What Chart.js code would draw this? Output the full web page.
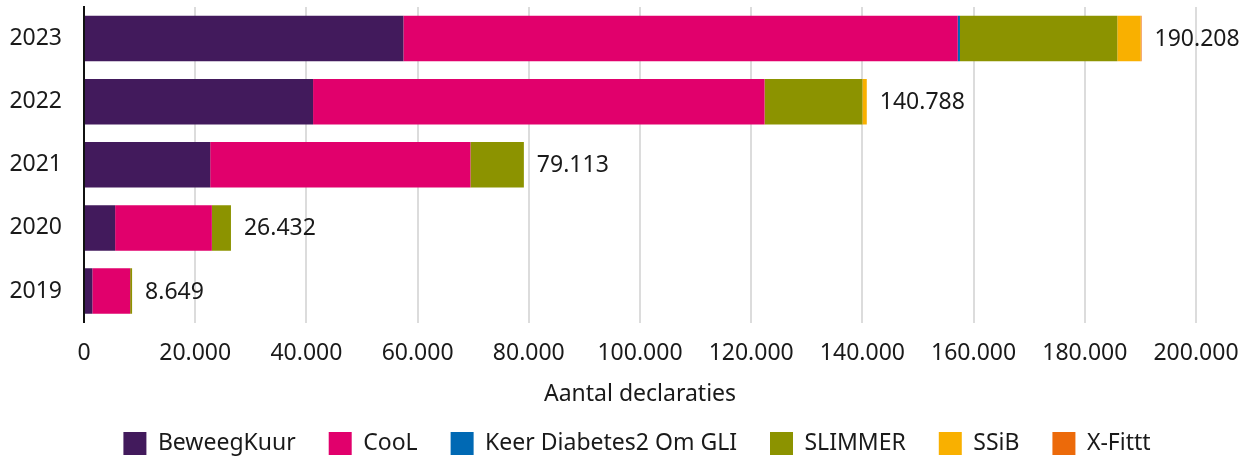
<!DOCTYPE html>
<html>
<head>
<meta charset="utf-8">
<script src="https://cdn.jsdelivr.net/npm/chart.js@4"></script>
<style>
  html, body { margin: 0; padding: 0; background: #fff; }
  #wrap { width: 1248px; height: 456px; }
</style>
</head>
<body>
<div id="wrap"><canvas id="myChart" width="1248" height="456"></canvas></div>
<script>
// jaren + waarden per programma
const years = ['2023', '2022', '2021', '2020', '2019'];
const beweegKuur = [57450, 41200, 22700, 5600, 1500];
const cool = [99700, 81200, 46800, 17400, 6800];
const keerDiabetes = [400, 0, 0, 0, 0];
const slimmer = [28300, 17600, 9613, 3432, 349];
const ssib = [4208, 788, 0, 0, 0];
const xFittt = [150, 0, 0, 0, 0];
const xTicks = [0, 20000, 40000, 60000, 80000, 100000, 120000, 140000, 160000, 180000, 200000];

const FONT = '"Noto Sans", sans-serif';

function fmt(n) {
    return String(Math.round(n)).replace(/\B(?=(\d{3})+(?!\d))/g, '.');
}

const series = [
    { label: 'BeweegKuur', data: beweegKuur, color: '#421a5c' },
    { label: 'CooL', data: cool, color: '#e1006c' },
    { label: 'Keer Diabetes2 Om GLI', data: keerDiabetes, color: '#0069b4' },
    { label: 'SLIMMER', data: slimmer, color: '#8c9300' },
    { label: 'SSiB', data: ssib, color: '#f9b000' },
    { label: 'X-Fittt', data: xFittt, color: '#ec6a0a' }
];

/* totaal achter elke balk */
const totalsPlugin = {
    id: 'totals',
    afterLayout(chart) {
        // legenda iets naar rechts, zoals in het origineel
        if (chart.legend) {
            chart.legend.left += 13;
            chart.legend.right += 13;
        }
    },
    afterDatasetsDraw(chart) {
        const ctx = chart.ctx;
        const xScale = chart.scales.x;
        const yScale = chart.scales.y;
        ctx.save();
        ctx.font = '23px ' + FONT;
        ctx.fillStyle = '#1a1a1a';
        ctx.textBaseline = 'middle';
        ctx.textAlign = 'left';
        years.forEach((y, i) => {
            let total = 0;
            series.forEach(s => { total += s.data[i]; });
            const x = xScale.getPixelForValue(total);
            const yy = yScale.getPixelForValue(i);
            ctx.fillText(fmt(total), x + 13, yy + 1);
        });
        ctx.restore();
    }
};

const ctx = document.getElementById('myChart').getContext('2d');
new Chart(ctx, {
    type: 'bar',
    data: {
        labels: years,
        datasets: series.map(s => ({
            label: s.label,
            data: s.data,
            backgroundColor: s.color,
            borderWidth: 0,
            categoryPercentage: 1,
            barPercentage: 0.72
        }))
    },
    options: {
        indexAxis: 'y',
        responsive: false,
        animation: false,
        layout: { padding: { top: 7, right: 0, left: 0, bottom: -9 } },
        scales: {
            x: {
                stacked: true,
                min: 0,
                max: 200000,
                afterBuildTicks: axis => { axis.ticks = xTicks.map(v => ({ value: v })); },
                afterFit: axis => {
                    axis.paddingLeft = 0;
                    axis.paddingRight = 52;
                    axis.height = 76.4;
                },
                grid: { color: '#dcdcdc', lineWidth: 2, drawTicks: false },
                border: { display: false },
                ticks: {
                    padding: 17,
                    color: '#1a1a1a',
                    font: { family: FONT, size: 23 },
                    maxRotation: 0,
                    callback: v => fmt(v)
                },
                title: {
                    display: true,
                    text: 'Aantal declaraties',
                    color: '#1a1a1a',
                    font: { family: FONT, size: 23 },
                    padding: { top: 1, bottom: -9 }
                }
            },
            y: {
                stacked: true,
                afterFit: axis => {
                    axis.paddingTop = 0;
                    axis.paddingBottom = 0;
                    axis.width = 84;
                },
                grid: { display: false, drawTicks: false },
                border: { display: true, color: '#111', width: 2 },
                ticks: {
                    padding: 22,
                    color: '#1a1a1a',
                    font: { family: FONT, size: 23 }
                }
            }
        },
        plugins: {
            legend: {
                position: 'bottom',
                labels: {
                    boxWidth: 23,
                    boxHeight: 23,
                    padding: 33,
                    color: '#1a1a1a',
                    font: { family: FONT, size: 23 }
                }
            },
            tooltip: { enabled: false }
        }
    },
    plugins: [totalsPlugin]
});
</script>
</body>
</html>
